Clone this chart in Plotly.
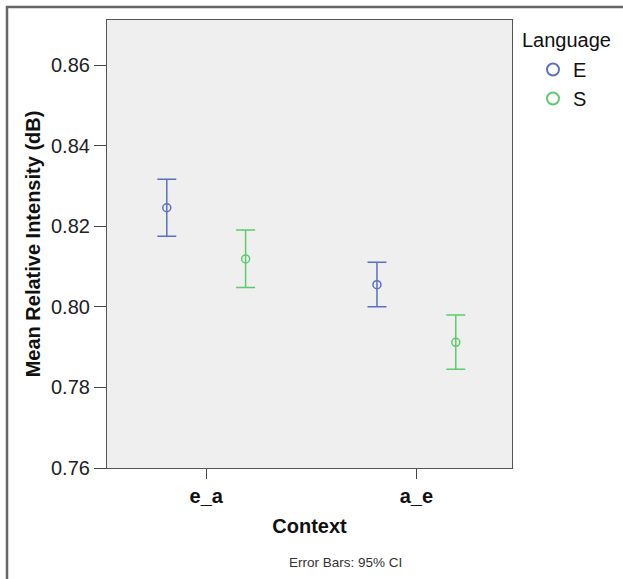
import plotly.graph_objects as go

contexts = ["e_a", "a_e"]
languages = ["E", "S"]
means = {"E": [0.8246, 0.8055], "S": [0.8119, 0.7912]}
upper = {"E": [0.8317, 0.8111], "S": [0.8191, 0.7980]}
lower = {"E": [0.8175, 0.8000], "S": [0.8048, 0.7845]}
y_ticks = [0.76, 0.78, 0.80, 0.82, 0.84, 0.86]

colors = {"E": "#5b6fc8", "S": "#5ccb6c"}
FONT = "Liberation Sans, Arial, sans-serif"

fig = go.Figure()
for lang in languages:
    m = means[lang]
    fig.add_trace(go.Scatter(
        x=contexts, y=m, name=lang, mode="markers",
        marker=dict(symbol="circle-open", size=8, color=colors[lang],
                    line=dict(width=1.5, color=colors[lang])),
        error_y=dict(type="data", symmetric=False,
                     array=[u - v for u, v in zip(upper[lang], m)],
                     arrayminus=[v - l for v, l in zip(m, lower[lang])],
                     color=colors[lang], thickness=1.5, width=9.5),
    ))

W, H = 623, 579
ml, mr, mt, mb = 107, 111, 20, 111
pw, ph = W - ml - mr, H - mt - mb

def px(xpix):
    return (xpix - ml) / pw

def py(ypix):
    return (H - mb - ypix) / ph

fig.update_layout(
    width=W, height=H,
    margin=dict(l=ml, r=mr, t=mt, b=mb, pad=0),
    paper_bgcolor="white", plot_bgcolor="#efefef",
    scattermode="group", scattergap=0.25,
    font=dict(family=FONT, color="#111"),
    showlegend=True,
    legend=dict(x=px(533), y=py(50), xanchor="left", yanchor="top",
                itemsizing="constant", font=dict(size=20, color="#111"),
                bgcolor="rgba(0,0,0,0)", tracegroupgap=0, itemwidth=30),
    xaxis=dict(type="category", range=[-0.472, 1.455],
               ticks="outside", ticklen=10, tickcolor="#444", tickwidth=1.2,
               tickfont=dict(size=20, color="#111", family=FONT, weight="bold"),
               showline=True, linecolor="#555", linewidth=1.2, mirror=True,
               showgrid=False, zeroline=False,
               title=dict(text="<b>Context</b>", font=dict(size=20, color="#111"), standoff=12)),
    yaxis=dict(range=[0.76, 0.8712], tickvals=y_ticks, tickformat=".2f",
               ticks="outside", ticklen=12, tickcolor="#444", tickwidth=1.2,
               tickfont=dict(size=20, color="#222"),
               showline=True, linecolor="#555", linewidth=1.2, mirror=True,
               showgrid=False, zeroline=False,
               title=dict(text="<b>Mean Relative Intensity (dB)</b>", font=dict(size=20, color="#111"), standoff=4)),
    shapes=[
        dict(type="rect", xref="paper", yref="paper", x0=px(7), x1=px(700), y0=py(7), y1=py(700),
             line=dict(color="#666", width=2.5), fillcolor="rgba(0,0,0,0)", layer="above"),
    ],
    annotations=[
        dict(text="Language", xref="paper", yref="paper", x=px(520), y=py(40),
             xanchor="left", yanchor="middle", showarrow=False, font=dict(size=20, color="#111")),
        dict(text="Error Bars: 95% CI", xref="paper", yref="paper",
             x=px(345), y=py(562), xanchor="center", yanchor="middle", showarrow=False,
             font=dict(size=13.5, color="#333")),
    ],
)

fig.write_html("out.html", config={"displayModeBar": False},
               post_script="document.body.style.margin='0';")
